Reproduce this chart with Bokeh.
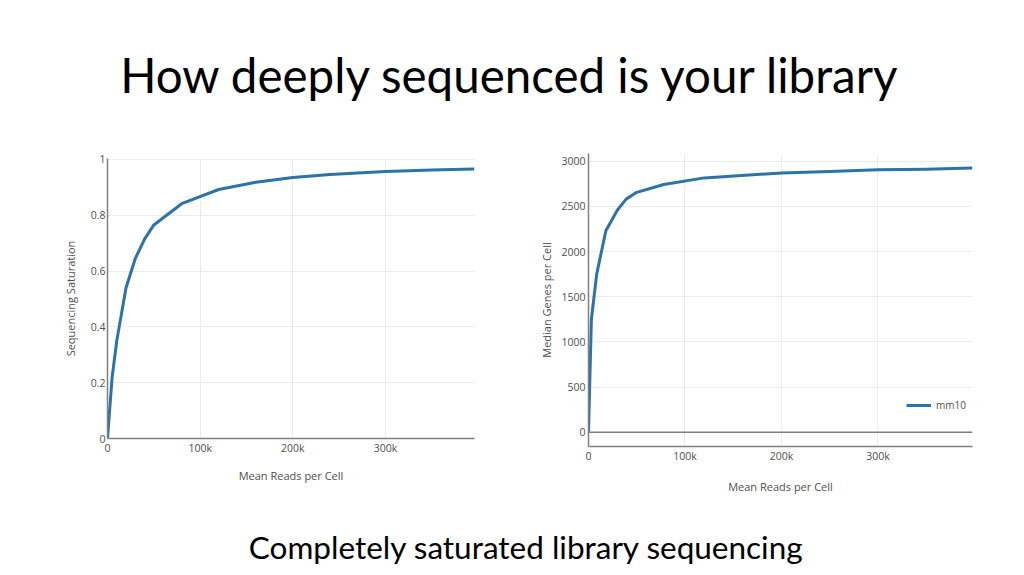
from bokeh.plotting import figure
from bokeh.models import FixedTicker, Range1d, Span, Legend, LegendItem
from bokeh.layouts import column, row
from bokeh.embed import file_html
from bokeh.resources import INLINE
from bokeh.core.properties import value

# ---- data ----
title_text = "How deeply sequenced is your library"
subtitle_text = "Completely saturated library sequencing"

reads_sat = [0, 5000, 10000, 20000, 30000, 40000, 50000, 80000, 120000, 160000, 200000, 240000, 300000, 350000, 396000]
saturation = [0, 0.22, 0.35, 0.54, 0.645, 0.714, 0.765, 0.841, 0.892, 0.918, 0.935, 0.946, 0.956, 0.962, 0.965]

reads_genes = [0, 3000, 8500, 18000, 30000, 39000, 50000, 78000, 120000, 200000, 250000, 300000, 350000, 398000]
genes = [0, 1250, 1750, 2230, 2460, 2580, 2655, 2742, 2815, 2870, 2885, 2905, 2910, 2925]

x_ticks = [0, 100000, 200000, 300000]
x_tick_labels = ["0", "100k", "200k", "300k"]
sat_ticks = [0, 0.2, 0.4, 0.6, 0.8, 1.0]
sat_tick_labels = ["0", "0.2", "0.4", "0.6", "0.8", "1"]
gene_ticks = [0, 500, 1000, 1500, 2000, 2500, 3000]
gene_tick_labels = ["0", "500", "1000", "1500", "2000", "2500", "3000"]
legend_label = "mm10"

LINE = "#2b73a8"
AXIS = "#808080"
GRID = "#ececec"
TXT = "#505050"
FONT = "Open Sans"


def text_fig(w, h, txt, x, y, size):
    f = figure(width=w, height=h, x_range=Range1d(0, w), y_range=Range1d(0, h),
               output_backend="svg", toolbar_location=None, min_border=0)
    f.axis.visible = False
    f.grid.visible = False
    f.outline_line_color = None
    f.text(x=[x], y=[y], text=[txt], text_font=value("Lato"), text_font_size=size,
           text_align="center", text_baseline="middle", text_color="#000000")
    return f


def style(p, ylabel, yticks, ylabels):
    p.outline_line_color = None
    p.frame_align = False
    p.xaxis.ticker = FixedTicker(ticks=x_ticks)
    p.xaxis.major_label_overrides = {t: l for t, l in zip(x_ticks, x_tick_labels)}
    p.yaxis.ticker = FixedTicker(ticks=yticks)
    p.yaxis.major_label_overrides = {t: l for t, l in zip(yticks, ylabels)}
    for ax in (p.xaxis[0], p.yaxis[0]):
        ax.axis_line_color = AXIS
        ax.axis_line_width = 1.5
        ax.major_tick_line_color = None
        ax.minor_tick_line_color = None
        ax.major_tick_out = 0
        ax.major_tick_in = 0
        ax.minor_tick_out = 0
        ax.minor_tick_in = 0
        ax.major_label_text_font = FONT
        ax.major_label_text_font_size = "10.5px"
        ax.major_label_text_color = TXT
        ax.axis_label_text_font = FONT
        ax.axis_label_text_font_size = "11px"
        ax.axis_label_text_font_style = "normal"
        ax.axis_label_text_color = TXT
    p.xaxis.axis_label = "Mean Reads per Cell"
    p.yaxis.axis_label = ylabel
    p.xgrid.grid_line_color = GRID
    p.ygrid.grid_line_color = GRID


title_fig = text_fig(1016, 140, title_text, 510.5, 66, "47.5px")

# left chart
p1 = figure(width=500, height=370, x_range=Range1d(0, 396000), y_range=Range1d(0, 1.003),
            output_backend="svg", toolbar_location=None,
            min_border_left=107, min_border_right=26, min_border_top=18, min_border_bottom=72)
style(p1, "Sequencing Saturation", sat_ticks, sat_tick_labels)
p1.yaxis.major_label_standoff = 2
p1.yaxis.axis_label_standoff = 10
p1.xaxis.major_label_standoff = 2
p1.xaxis.axis_label_standoff = 10
p1.line(reads_sat, saturation, line_color=LINE, line_width=3, line_join="round")

# right chart
p2 = figure(width=516, height=370, x_range=Range1d(0, 398000), y_range=Range1d(-158, 3085),
            output_backend="svg", toolbar_location=None,
            min_border_left=88, min_border_right=44, min_border_top=13, min_border_bottom=64)
style(p2, "Median Genes per Cell", gene_ticks, gene_tick_labels)
p2.yaxis.major_label_standoff = 3
p2.yaxis.axis_label_standoff = 4
p2.xaxis.major_label_standoff = 2
p2.xaxis.axis_label_standoff = 13
p2.add_layout(Span(location=0, dimension="width", line_color=AXIS, line_width=1.5))
r2 = p2.line(reads_genes, genes, line_color=LINE, line_width=3, line_join="round")
leg = Legend(items=[LegendItem(label=legend_label, renderers=[r2])], location=(318, 31),
             border_line_color=None, background_fill_alpha=0, padding=0, margin=0,
             glyph_width=25, glyph_height=20, label_height=20, label_standoff=5,
             label_text_font=FONT, label_text_font_size="10px", label_text_color=TXT)
p2.add_layout(leg)

bottom_fig = text_fig(1016, 60, subtitle_text, 526, 24, "31.5px")

layout = column(title_fig, row(p1, p2), bottom_fig)
open("out.html", "w").write(file_html(layout, INLINE))
